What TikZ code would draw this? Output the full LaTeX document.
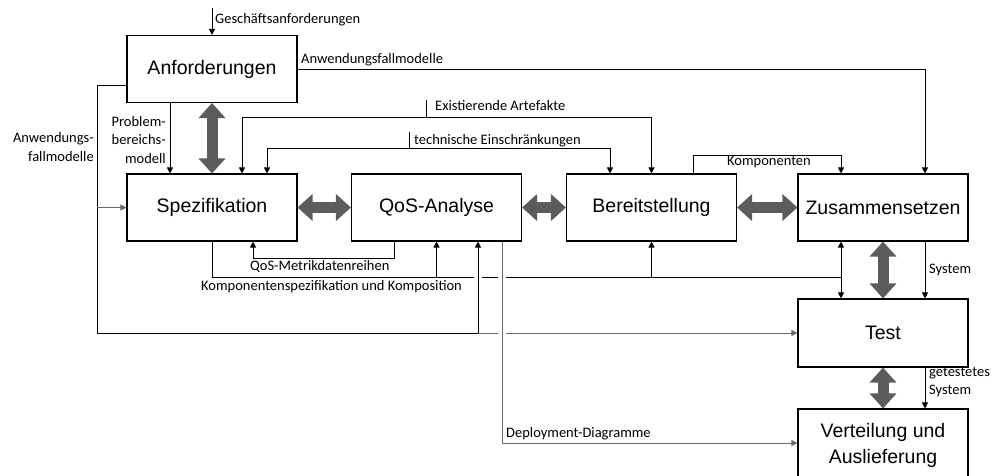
\documentclass[tikz,border=0pt]{standalone}
\usepackage{fontspec}
\setmainfont{Carlito}
\newfontfamily\boxfont{Liberation Sans}
\usetikzlibrary{arrows.meta}
\definecolor{thickgray}{RGB}{92,92,92}
\definecolor{linegray}{RGB}{105,105,105}
\begin{document}
\begin{tikzpicture}[x=1pt,y=-1pt,
  stage/.style={draw, line width=1.1pt, minimum width=170pt, minimum height=67pt,
    inner sep=0pt, align=center, font=\boxfont\fontsize{19.5}{26}\selectfont},
  flow/.style={draw, line width=0.9pt, -{Triangle[length=6pt,width=6pt]}},
  plain/.style={draw, line width=0.9pt},
  bigarrow/.style={draw=thickgray, line width=11pt,
    {Triangle[length=15pt,width=26pt]}-{Triangle[length=15pt,width=26pt]}},
  lbl/.style={inner sep=0pt, font=\fontsize{14.5}{18.5}\selectfont}
]
\useasboundingbox (0,0) rectangle (995,475);

% process stages
\node[stage] (anf)    at (212,69)    {Anforderungen};
\node[stage] (spez)   at (212,207.5) {Spezifikation};
\node[stage] (qos)    at (436.5,207.5) {QoS-Analyse};
\node[stage] (bereit) at (651.5,207.5) {Bereitstellung};
\node[stage] (zus)    at (883,207.5) {Zusammensetzen};
\node[stage, minimum height=68pt] (test) at (883,333) {Test};
\node[stage, minimum height=72pt] (vert) at (883,445) {Verteilung und\\Auslieferung};

% bend points
\coordinate (gin)    at (212,8);
\coordinate (lcorner) at (97,85);
\coordinate (lbottom) at (97,333);
\coordinate (qosin)  at (478,333);
\coordinate (ea)     at (242,117);
\coordinate (eatick) at (426,100);
\coordinate (te)     at (267,148);
\coordinate (tetick) at (409,132);
\coordinate (te2)    at (610,148);
\coordinate (k1)     at (693,155);
\coordinate (k1e)    at (841,155);
\coordinate (m1)     at (394,258);
\coordinate (m2)     at (253,258);
\coordinate (k2)     at (212,277);
\coordinate (k3)     at (841,277);
\coordinate (d1)     at (502,443);
\coordinate (pb)     at (170,0);
\coordinate (sy)     at (925,0);

% thick exchange arrows
\draw[bigarrow] (anf.south) -- (spez.north);
\draw[bigarrow] (spez.east) -- (qos.west);
\draw[bigarrow] (qos.east) -- (bereit.west);
\draw[bigarrow] (bereit.east) -- (zus.west);
\draw[bigarrow] (zus.south) -- (test.north);
\draw[bigarrow] (test.south) -- (vert.north);

% business requirements
\draw[flow] (gin) -- (anf.north);
\node[lbl, anchor=west] (lgesch) at (215,20) {Geschäftsanforderungen};

% use case models to composition
\draw[flow] (anf.east) -| (sy |- zus.north);
\node[lbl, anchor=west] (lanw) at (301,60) {Anwendungsfallmodelle};

% problem domain model
\draw[flow] (pb |- anf.south) -- (pb |- spez.north);
\node[lbl, anchor=east, align=right] (lprob) at (166,140) {Problem-\\bereichs-\\modell};

% use case models loop on the left
\draw[plain] (anf.west |- lcorner) -- (lcorner) -- (lbottom) -- (qosin);
\draw[flow, linegray] (lcorner |- spez.west) -- (spez.west);
\draw[flow, linegray] (qosin) -- (test.west);
\node[lbl, anchor=east, align=right] (lanw2) at (94,147) {Anwendungs-\\fallmodelle};

% existing artefacts
\draw[flow] (ea) -- (ea |- spez.north);
\draw[flow] (ea) -| (bereit.north);
\draw[plain] (eatick) -- (eatick |- ea);
\node[lbl, anchor=west] (lexist) at (435,106) {Existierende Artefakte};

% technical constraints
\draw[flow] (te) -- (te |- spez.north);
\draw[flow] (te) -- (te2) -- (te2 |- bereit.north);
\draw[plain] (tetick) -- (tetick |- te);
\node[lbl, anchor=west] (ltech) at (414,141) {technische Einschränkungen};

% components
\draw[flow] (k1 |- bereit.north) -- (k1) -- (k1e) -- (k1e |- zus.north);
\node[lbl, anchor=west] (lkomp) at (727,162) {Komponenten};

% QoS metric series
\draw[flow] (m1 |- qos.south) -- (m1) -- (m2) -- (m2 |- spez.south);
\node[lbl, anchor=west] (lmetr) at (250,266) {QoS-Metrikdatenreihen};

% component specification and composition
\draw[plain] (spez.south) -- (k2) -- (k3);
\fill[white] (473.5,274) rectangle (482,280);
\fill[white] (498,274) rectangle (506,280);
\fill[white] (498,330) rectangle (506,336);
\draw[flow] (k3) -- (k3 |- zus.south);
\draw[flow] (k3) -- (k3 |- test.north);
\draw[flow] (qos.south |- k2) -- (qos.south);
\draw[flow] (bereit.south |- k2) -- (bereit.south);
\draw[flow] (qosin) -- (qosin |- qos.south);
\node[lbl, anchor=west] (lkspec) at (201,287) {Komponentenspezifikation und Komposition};

% deployment diagrams
\draw[flow, linegray] (d1 |- qos.south) -- (d1) -- (d1 -| vert.west);
\node[lbl, anchor=west] (ldepl) at (506,434) {Deployment-Diagramme};

% system hand-over
\draw[flow] (sy |- zus.south) -- (sy |- test.north);
\node[lbl, anchor=west] (lsys) at (929,270) {System};
\draw[flow] (sy |- test.south) -- (sy |- vert.north);
\node[lbl, anchor=west, align=left] (lgsys) at (929,382) {getestetes\\System};
\end{tikzpicture}
\end{document}
